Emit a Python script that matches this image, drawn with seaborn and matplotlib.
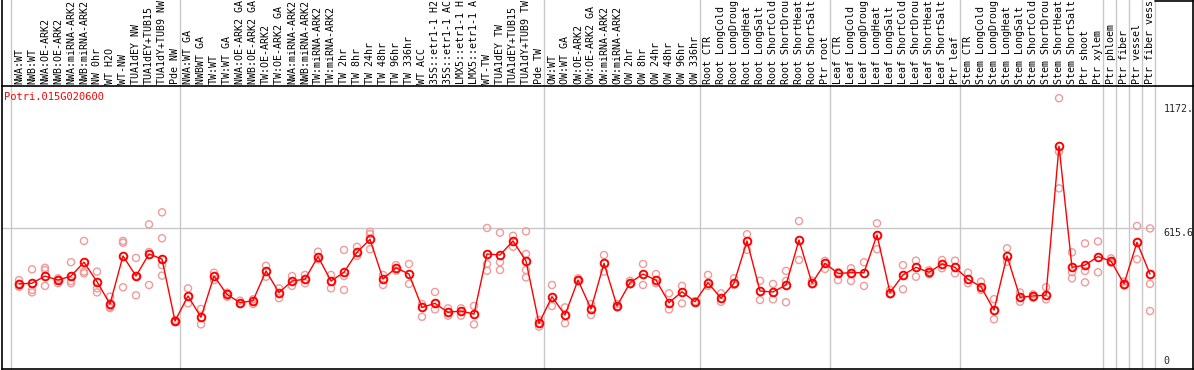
import matplotlib
matplotlib.use("Agg")
import matplotlib.pyplot as plt
import matplotlib.transforms as mtransforms
import seaborn as sns
import pandas as pd

GENE = "Potri.015G020600"

# sample names as shown (truncated to 14 chars like the original)
labels_nw = ["NWA:WT", "NWB:WT", "NWA:OE-ARK2", "NWB:OE-ARK2", "NWA:miRNA-ARK2", "NWB:miRNA-ARK2",
             "NW 0hr", "WT H2O", "WT-NW", "TUA1dEY NW", "TUA1dEY+TUB15", "TUA1dY+TUB9 NW", "Pde NW"]
labels_tw = ["NWA:WT GA", "NWBWT GA", "TW:WT", "TW:WT GA", "NWA:OE-ARK2 GA", "NWB:OE-ARK2 GA",
             "TW:OE-ARK2", "TW:OE-ARK2 GA", "NWA:miRNA-ARK2", "NWB:miRNA-ARK2", "TW:miRNA-ARK2",
             "TW:miRNA-ARK2", "TW 2hr", "TW 8hr", "TW 24hr", "TW 48hr", "TW 96hr", "TW 336hr",
             "WT ACC", "35S::etr1-1 H2", "35S::etr1-1 AC", "LMX5::etr1-1 H", "LMX5::etr1-1 A",
             "WT-TW", "TUA1dEY TW", "TUA1dEY+TUB15", "TUA1dY+TUB9 TW", "Pde TW"]
labels_ow = ["OW:WT", "OW:WT GA", "OW:OE-ARK2", "OW:OE-ARK2 GA", "OW:miRNA-ARK2", "OW:miRNA-ARK2",
             "OW 2hr", "OW 8hr", "OW 24hr", "OW 48hr", "OW 96hr", "OW 336hr"]
labels_root = ["Root CTR", "Root LongCold", "Root LongDroug", "Root LongHeat", "Root LongSalt",
               "Root ShortCold", "Root ShortDrou", "Root ShortHeat", "Root ShortSalt", "Ptr root"]
labels_leaf = ["Leaf CTR", "Leaf LongCold", "Leaf LongDroug", "Leaf LongHeat", "Leaf LongSalt",
               "Leaf ShortCold", "Leaf ShortDrou", "Leaf ShortHeat", "Leaf ShortSalt", "Ptr leaf"]
labels_stem = ["Stem CTR", "Stem LongCold", "Stem LongDroug", "Stem LongHeat", "Stem LongSalt",
               "Stem ShortCold", "Stem ShortDrou", "Stem ShortHeat", "Stem ShortSalt", "Ptr shoot",
               "Ptr xylem"]
labels_ptr = ["Ptr phloem", "Ptr fiber", "Ptr vessel", "Ptr fiber vess"]

# mean expression per sample
means_nw = [367, 370, 402, 384, 402, 464, 377, 277, 492, 402, 501, 478, 201]
means_tw = [313, 218, 402, 320, 283, 292, 425, 328, 380, 388, 489, 380, 419, 508,
            566, 389, 439, 411, 262, 280, 240, 246, 232, 501, 496, 559, 469, 191]
means_ow = [310, 228, 384, 255, 459, 268, 372, 411, 384, 283, 332, 287]
means_root = [372, 303, 370, 559, 335, 331, 362, 563, 370, 459]
means_leaf = [414, 417, 417, 586, 328, 407, 441, 419, 456, 441]
means_stem = [388, 354, 250, 492, 307, 313, 317, 983, 441, 451, 489]
means_ptr = [469, 367, 553, 411]

# replicate values per sample
reps_nw = [[384, 354, 367], [432, 340, 329], [439, 429, 358], [392, 370, 384], [464, 370, 380],
           [559, 422, 414], [422, 347, 329], [310, 265, 259], [559, 551, 352], [483, 316, 402],
           [633, 362, 510], [687, 571, 451, 404], [201, 197, 205]]
reps_tw = [[347, 280], [255, 186], [417, 384], [328, 310], [277, 292], [298, 277], [448, 399],
           [347, 303], [402, 358], [407, 370], [511, 477], [407, 347], [519, 402, 340], [533, 492],
           [600, 589, 522], [407, 362], [451, 426], [456, 367], [277, 220], [331, 253], [258, 225],
           [258, 225], [268, 186], [617, 456, 426], [596, 464, 429], [582, 533],
           [602, 501, 429, 396], [176, 206]]
reps_ow = [[362, 268], [262, 191], [392, 380], [277, 228], [496, 422], [277, 262], [381, 365],
           [456, 362], [411, 370], [325, 253], [358, 280], [290, 284]]
reps_root = [[407, 358], [325, 287], [392, 362], [589, 519], [381, 295], [367, 298],
             [425, 285, 380], [648, 474], [381, 365], [434, 470]]
reps_leaf = [[420, 384], [437, 380], [464, 358], [638, 522], [340, 320], [451, 343], [471, 399],
             [428, 410], [474, 437], [471, 414]]
reps_stem = [[417, 370], [377, 340], [299, 209], [526, 466], [329, 287], [320, 305], [352, 298],
             [1197, 958, 794], [508, 419, 392], [548, 425, 374], [557, 419]]
reps_ptr = [[481, 462], [377, 360], [626, 477], [615, 367, 246]]

y_ticks = [1172, 615.6, 0]
y_tick_labels = ["1172.", "615.6", "0"]

labels = labels_nw + labels_tw + labels_ow + labels_root + labels_leaf + labels_stem + labels_ptr
means = means_nw + means_tw + means_ow + means_root + means_leaf + means_stem + means_ptr
reps = reps_nw + reps_tw + reps_ow + reps_root + reps_leaf + reps_stem + reps_ptr
groups = [labels_nw, labels_tw, labels_ow, labels_root, labels_leaf, labels_stem] + [[l] for l in labels_ptr]

df_mean = pd.DataFrame({"pos": range(len(means)), "value": means})
df_rep = pd.DataFrame([(i, v) for i, rr in enumerate(reps) for v in rr], columns=["pos", "value"])

sns.set_style("white")
plt.rcParams["font.family"] = ["DejaVu Sans Mono"]
MONO = 7.2

W, H = 1194, 370
fig = plt.figure(figsize=(W / 100, H / 100), dpi=100)
ax = fig.add_axes([2 / W, 1 / H, 1191 / W, 283 / H])

# replicates, then means on top
sns.scatterplot(data=df_rep, x="pos", y="value", ax=ax, marker="o", s=26,
                facecolors="none", edgecolor="#f09a9a", linewidth=1.0, zorder=3, legend=False)
sns.lineplot(data=df_mean, x="pos", y="value", ax=ax, color="#ff0000", linewidth=1.0,
             marker="o", markersize=5.5, markerfacecolor="none", markeredgecolor="#ff0000",
             markeredgewidth=1.4, zorder=4, legend=False)

ax.set_xlim((2 - 19) / 13, (1193 - 19) / 13)
ax.set_ylim(-13.4, 1251.6)
ax.set_xticks([])
ax.set_yticks([])
ax.set_xlabel("")
ax.set_ylabel("")
for sp in ax.spines.values():
    sp.set_color("black")
    sp.set_linewidth(1.2)

top_ext = 1 + 86 / 283
x0, x1 = ax.get_xlim()
# group separators, running up through the label strip
start = 0
bounds = [0]
for g in groups:
    start += len(g)
    bounds.append(start)
for b in bounds:
    ax.axvline(b - 0.65, ymin=0, ymax=top_ext, color="#c8c8c8", linewidth=1.0, clip_on=False, zorder=1)
ax.axvline(x0, ymin=1, ymax=top_ext, color="black", linewidth=1.2, clip_on=False)
ax.axvline(x1, ymin=1, ymax=top_ext, color="black", linewidth=1.2, clip_on=False)
# short top border over the value-label column
last = (88 - 0.65 - x0) / (x1 - x0)
ax.axhline(1251.6 * top_ext, xmin=last, xmax=1, color="black", linewidth=1.2, clip_on=False)

# horizontal guide at 615.6 up to the last separator
ax.axhline(615.6, xmin=0, xmax=last, color="#c8c8c8", linewidth=1.0, zorder=1)

# sample labels above the plot
blend = mtransforms.blended_transform_factory(ax.transData, ax.transAxes)
for i, lab in enumerate(labels):
    ax.text(i, 1.006, lab, rotation=90, ha="center", va="bottom", fontsize=MONO,
            transform=blend, clip_on=False, color="black")

# value labels on the right
yblend = mtransforms.blended_transform_factory(ax.transAxes, ax.transData)
ax.text(0.9755, y_ticks[0], y_tick_labels[0], transform=yblend, ha="left", va="top", fontsize=MONO)
ax.text(0.9755, y_ticks[1], y_tick_labels[1], transform=yblend, ha="left", va="top", fontsize=MONO)
ax.text(0.9755, y_ticks[2], y_tick_labels[2], transform=yblend, ha="left", va="bottom", fontsize=MONO)

ax.text(0.002, 0.962, GENE, transform=ax.transAxes, ha="left", va="center",
        fontsize=7.5, color="#ff0000")

fig.savefig("out.png", dpi=100)
